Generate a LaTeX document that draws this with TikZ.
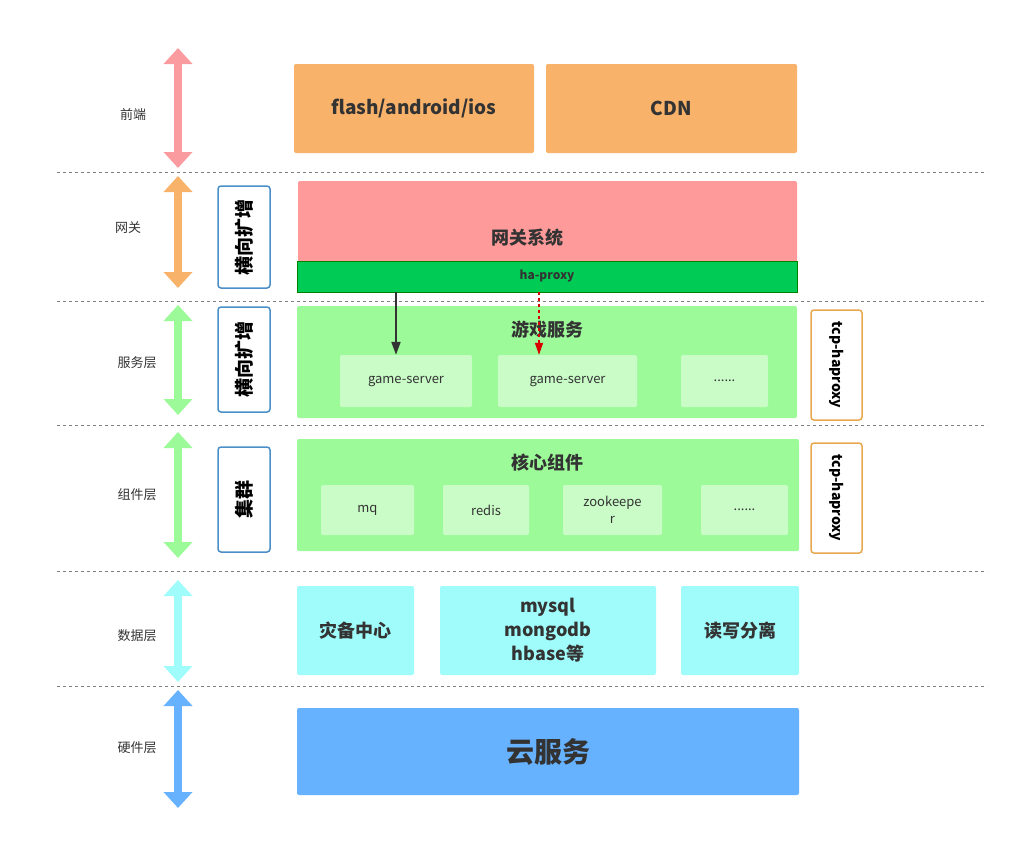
\documentclass[tikz,border=0pt]{standalone}
\usepackage{fontspec}
\setmainfont{Noto Sans CJK SC}
\usetikzlibrary{arrows.meta}
\definecolor{cfront}{HTML}{F8B26A}
\definecolor{cgate}{HTML}{FF9A9A}
\definecolor{cproxy}{HTML}{00CC55}
\definecolor{cserv}{HTML}{9CFB98}
\definecolor{cinner}{HTML}{C9FCC7}
\definecolor{cdata}{HTML}{A0FBFB}
\definecolor{ccloud}{HTML}{66B2FF}
\definecolor{cpink}{HTML}{FA9BA0}
\definecolor{cblue}{HTML}{4A8FC8}
\definecolor{corange}{HTML}{E8A850}
\tikzset{
  box/.style={rectangle, rounded corners=2pt, inner sep=0pt, align=center, text=black!80},
  inner/.style={box, fill=cinner, font=\fontsize{13}{15}\selectfont},
  side/.style={rectangle, rounded corners=3pt, draw=cblue, line width=1.5pt, fill=white, inner sep=0pt, font=\bfseries\fontsize{19}{21}\selectfont},
  tcp/.style={side, draw=corange, font=\bfseries\fontsize{14}{16}\selectfont},
  layer/.style={font=\fontsize{13}{15}\selectfont, text=black!80},
  title/.style={font=\bfseries\fontsize{18}{20}\selectfont, text=black!80},
  sep/.style={dashed, gray, line width=0.6pt},
  level/.style={{Triangle[width=28pt,length=16pt]}-{Triangle[width=28pt,length=16pt]}, line width=8pt}
}
\begin{document}
\begin{tikzpicture}[x=1pt,y=-1pt]
\useasboundingbox (0,0) rectangle (1021,841);
% separators
\foreach \y in {172,301,425,571,686}
  \draw[sep] (57,\y) -- (987,\y);
% levels
\coordinate (a1) at (178,48);  \coordinate (b1) at (178,168);
\coordinate (a2) at (178,176); \coordinate (b2) at (178,288);
\coordinate (a3) at (178,305); \coordinate (b3) at (178,415);
\coordinate (a4) at (178,432); \coordinate (b4) at (178,558);
\coordinate (a5) at (178,580); \coordinate (b5) at (178,682);
\coordinate (a6) at (178,690); \coordinate (b6) at (178,808);
\draw[level, cpink] (a1) -- (b1);
\draw[level, cfront] (a2) -- (b2);
\draw[level, cserv] (a3) -- (b3);
\draw[level, cserv] (a4) -- (b4);
\draw[level, cdata] (a5) -- (b5);
\draw[level, ccloud] (a6) -- (b6);
\node (l1) [layer] at (133,115) {前端};
\node (l2) [layer] at (128,228) {网关};
\node (l3) [layer] at (137,363) {服务层};
\node (l4) [layer] at (137,495) {组件层};
\node (l5) [layer] at (137,636) {数据层};
\node (l6) [layer] at (137,748) {硬件层};
% side boxes
\node (s1) [side, minimum width=52pt, minimum height=102pt] at (244,237) {\rotatebox{90}{横向扩增}};
\node (s2) [side, minimum width=52pt, minimum height=105pt] at (244,359.5) {\rotatebox{90}{横向扩增}};
\node (s3) [side, minimum width=52pt, minimum height=105pt] at (244,499.5) {\rotatebox{90}{集群}};
\node (t1) [tcp, minimum width=51pt, minimum height=110pt] at (836.5,365) {\rotatebox{-90}{tcp-haproxy}};
\node (t2) [tcp, minimum width=51pt, minimum height=110pt] at (836.5,498) {\rotatebox{-90}{tcp-haproxy}};
% front
\node (flash) [box, fill=cfront, minimum width=240pt, minimum height=89pt, font=\bfseries\fontsize{19}{21}\selectfont] at (414,108.5) {flash/android/ios};
\node (cdn) [box, fill=cfront, minimum width=251pt, minimum height=89pt, font=\bfseries\fontsize{19}{21}\selectfont] at (671.5,108.5) {CDN};
% gateway
\node (gate) [box, fill=cgate, minimum width=499pt, minimum height=81pt] at (547.5,221.5) {};
\node (gatet) [title] at (527,238) {网关系统};
\node (proxy) [rectangle, fill=cproxy, draw=green!50!black, line width=0.8pt, minimum width=500pt, minimum height=31pt, inner sep=0pt, font=\bfseries\fontsize{12}{14}\selectfont, text=black!80] at (547,276.5) {ha-proxy};
% services
\node (serv) [box, fill=cserv, minimum width=500pt, minimum height=112pt] at (547,362) {};
\node (servt) [title] at (547,330) {游戏服务};
\node (g1) [inner, minimum width=132pt, minimum height=52pt] at (406,381) {game-server};
\node (g2) [inner, minimum width=139pt, minimum height=52pt] at (567.5,381) {game-server};
\node (g3) [inner, minimum width=87pt, minimum height=52pt] at (724.5,381) {......};
\coordinate (p1) at (396,292);
\coordinate (p2) at (539,292);
\draw[-{Triangle[width=9pt,length=13pt]}, line width=2pt, black!80] (p1) -- (p1 |- g1.north);
\draw[-{Triangle[width=8pt,length=12pt]}, dashed, line width=1.5pt, red!85!black] (p2) -- (p2 |- g2.north);
% core
\node (core) [box, fill=cserv, minimum width=502pt, minimum height=112pt] at (548,495) {};
\node (coret) [title] at (547,463) {核心组件};
\node (mq) [inner, minimum width=93pt, minimum height=50pt] at (367.5,510) {mq};
\node (redis) [inner, minimum width=86pt, minimum height=50pt] at (486,510) {redis};
\node (zk) [inner, minimum width=99pt, minimum height=50pt, text width=80pt, font=\fontsize{13}{17}\selectfont] at (612.5,510) {zookeepe\\r};
\node (more) [inner, minimum width=87pt, minimum height=50pt] at (744.5,510) {......};
% data
\node (dr) [box, fill=cdata, minimum width=117pt, minimum height=89pt, font=\bfseries\fontsize{18}{20}\selectfont] at (355.5,630.5) {灾备中心};
\node (db) [box, fill=cdata, minimum width=216pt, minimum height=89pt, font=\bfseries\fontsize{18}{24}\selectfont] at (548,630.5) {mysql\\mongodb\\hbase等};
\node (rw) [box, fill=cdata, minimum width=118pt, minimum height=89pt, font=\bfseries\fontsize{18}{20}\selectfont] at (740,630.5) {读写分离};
% hardware
\node (cloud) [box, fill=ccloud, minimum width=502pt, minimum height=87pt, font=\bfseries\fontsize{28}{30}\selectfont] at (548,751.5) {云服务};
\end{tikzpicture}
\end{document}
